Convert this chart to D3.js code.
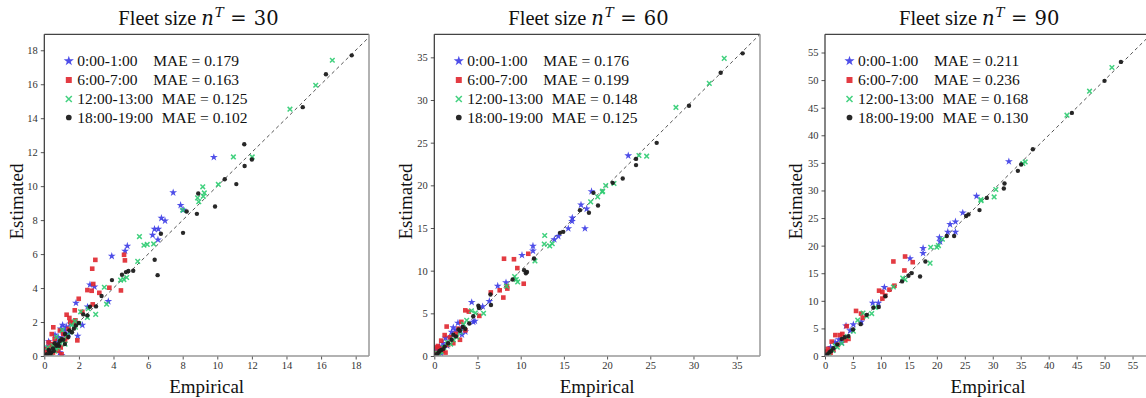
<!DOCTYPE html>
<html><head><meta charset="utf-8">
<script src="https://cdn.jsdelivr.net/npm/d3@7"></script>
<style>body{margin:0;background:#fff}svg{display:block}text{font-family:"Liberation Serif","Times New Roman",serif}</style>
</head><body><svg id="c" width="1146" height="398"></svg>
<script>
// ---------------- data ----------------
const seriesLabels = ["0:00-1:00","6:00-7:00","12:00-13:00","18:00-19:00"];
const fleetSizes = [30, 60, 90];
const mae30 = ["0.179","0.163","0.125","0.102"];
const mae60 = ["0.176","0.199","0.148","0.125"];
const mae90 = ["0.211","0.236","0.168","0.130"];
const ticks30 = [0,2,4,6,8,10,12,14,16,18];
const ticks60 = [0,5,10,15,20,25,30,35];
const ticks90 = [0,5,10,15,20,25,30,35,40,45,50,55];
const axisMax30 = [18.77, 18.94];
const axisMax60 = [37.7, 37.7];
const axisMax90 = [58.3, 58.3];

const f30_blue = [[9.8,11.7],[7.45,9.62],[7.88,8.88],[8.03,8.6],[6.77,8.12],[6.98,7.96],[6.37,7.47],[6.59,7.47],[6.26,7.12],[6.57,6.85],[4.8,6.48],[4.67,6.18],[3.9,5.88],[2.64,4.2],[2.9,4.08],[3.7,3.22],[1.83,3.12],[2.2,1.82],[1.93,1.18],[1.06,1.82],[1.27,1.72],[0.62,1.25],[0.95,1.6],[1.5,1.9],[0.3,0.75],[0.5,0.6],[0.8,1.1],[0.2,0.3],[0.4,0.2],[1.0,0.05],[0.7,0.9],[1.2,1.5],[0.15,0.5],[0.6,0.4],[1.4,1.3],[0.9,0.2],[1.7,2.0],[2.5,2.9],[0.25,0.85],[1.1,1.25]];
const f30_red = [[2.95,5.66],[2.77,5.14],[4.61,5.96],[4.66,5.63],[2.83,4.24],[2.49,3.88],[2.74,3.84],[3.76,4.02],[3.18,3.72],[4.43,3.86],[1.99,3.37],[1.76,2.69],[2.8,3.04],[1.29,2.43],[1.45,2.24],[0.52,1.69],[0.43,1.29],[1.91,0.92],[1.68,1.96],[1.5,2.0],[1.1,1.3],[0.9,1.5],[0.25,0.8],[0.3,0.5],[0.6,1.0],[0.8,0.3],[0.5,0.2],[0.1,0.4],[1.2,0.9],[0.7,0.6],[0.95,0.5],[1.4,1.6],[0.2,0.1],[0.35,0.05],[1.0,0.1],[1.3,1.1],[2.2,2.6],[1.8,2.1],[0.15,0.2],[0.45,0.7]];
const f30_green = [[16.65,17.41],[15.69,15.94],[14.2,14.53],[10.93,11.72],[12.02,11.72],[10.06,10.1],[9.16,9.96],[9.25,9.6],[8.86,9.31],[8.93,9.08],[9.19,9.4],[8.0,8.59],[5.5,7.03],[5.76,6.52],[5.95,6.57],[6.32,6.6],[5.4,5.57],[4.41,4.47],[4.6,4.5],[4.76,4.62],[3.47,4.05],[3.6,3.05],[2.97,2.45],[2.54,2.78],[2.49,2.27],[2.1,2.6],[1.77,2.05],[1.58,1.82],[1.04,1.52],[0.71,1.12],[1.8,1.7],[1.3,1.2],[0.9,0.8],[0.5,0.6],[0.3,0.2],[0.6,0.3],[1.1,0.9],[0.2,0.5],[1.5,1.4],[0.8,0.5],[2.0,1.9],[0.4,0.1],[1.2,0.7],[0.65,0.45]];
const f30_black = [[17.77,17.7],[16.28,16.59],[14.94,14.65],[11.56,12.47],[11.58,11.19],[12.0,11.57],[10.43,10.41],[11.1,10.12],[8.9,9.57],[8.23,8.51],[8.82,8.37],[9.87,8.8],[8.02,7.25],[6.74,7.2],[6.38,5.67],[6.55,4.76],[3.91,4.47],[4.49,4.78],[4.72,4.94],[4.86,5.0],[5.14,5.02],[3.31,3.53],[2.64,2.9],[2.99,2.92],[2.25,2.45],[2.49,2.39],[1.83,1.8],[1.71,1.61],[1.45,1.51],[1.39,1.12],[0.9,0.88],[1.19,0.7],[1.0,1.0],[0.7,0.6],[0.5,0.45],[0.3,0.3],[0.15,0.1],[0.4,0.2],[0.6,0.75],[0.8,0.7],[1.2,1.3],[1.6,1.4],[0.25,0.35],[2.0,1.95],[1.1,0.95],[0.35,0.15],[0.55,0.3],[0.85,0.6]];

const f60_blue = [[22.45,23.48],[18.2,19.28],[16.98,17.71],[17.64,17.24],[15.97,16.19],[15.94,15.8],[17.44,14.94],[15.51,14.94],[14.35,14.04],[13.89,13.65],[11.42,12.9],[11.42,12.32],[10.15,11.81],[7.34,8.21],[8.3,8.61],[6.37,6.42],[4.33,6.3],[2.74,3.87],[2.2,3.33],[3.13,3.29],[3.59,2.86],[4.51,3.99],[1.3,2.1],[4.7,4.1],[5.6,5.8],[1.0,1.5],[0.6,1.1],[0.3,0.6],[1.8,2.2],[2.5,3.0],[3.2,2.5],[0.8,0.3],[0.4,0.2],[1.5,1.2],[2.0,2.8],[0.2,0.9]];
const f60_red = [[8.07,11.4],[9.22,11.34],[10.88,11.98],[9.61,10.3],[10.35,8.47],[8.45,7.9],[7.99,6.85],[6.54,7.45],[7.57,7.7],[8.41,8.18],[5.21,4.7],[3.59,5.35],[1.43,3.45],[1.2,2.45],[3.13,4.0],[2.97,1.9],[4.0,5.2],[2.5,2.6],[1.8,2.2],[2.2,1.5],[0.42,1.17],[0.8,1.8],[1.0,0.6],[0.3,0.4],[0.6,0.9],[1.6,1.3],[2.8,3.2],[0.2,1.0],[1.3,0.4],[3.6,3.0],[0.5,0.1]];
const f60_green = [[33.56,34.88],[31.83,31.95],[27.97,29.13],[23.69,23.5],[24.58,23.42],[20.8,20.22],[19.84,19.98],[19.44,19.24],[18.91,18.65],[18.1,18.06],[19.49,19.32],[12.78,14.12],[12.73,13.12],[13.65,13.16],[13.36,12.9],[11.65,11.14],[9.49,8.96],[9.65,8.68],[9.3,9.3],[8.37,8.18],[4.75,5.05],[3.75,4.19],[4.3,5.3],[5.7,5.0],[3.0,2.8],[2.2,1.9],[1.5,1.6],[0.8,0.5],[1.1,1.0],[2.6,2.2],[0.4,0.3],[1.9,1.4],[3.4,3.7],[0.6,0.1]];
const f60_black = [[35.69,35.47],[33.15,33.19],[29.48,29.32],[25.74,24.98],[23.35,23.1],[23.35,22.37],[21.81,20.81],[20.65,20.29],[18.42,19.12],[18.95,17.64],[16.86,17.09],[17.9,16.78],[14.93,14.55],[14.55,14.43],[11.54,11.42],[10.73,9.85],[10.6,9.7],[10.4,10.05],[9.07,8.96],[6.56,5.98],[6.5,7.2],[5.17,5.63],[5.1,5.9],[4.51,4.66],[4.05,3.8],[3.59,3.2],[2.97,2.96],[2.5,2.3],[2.0,1.9],[1.6,1.5],[1.2,1.1],[0.8,0.7],[0.5,0.4],[0.3,0.2],[2.8,3.1],[3.3,3.4],[1.0,0.8],[0.6,0.6],[2.2,2.5]];

const f90_blue = [[32.88,35.24],[27.1,28.97],[24.64,25.96],[22.37,23.86],[23.33,24.34],[21.96,22.48],[23.33,22.48],[20.47,21.45],[20.58,20.73],[17.54,19.53],[17.54,18.63],[15.21,17.67],[10.62,12.44],[8.53,9.62],[9.55,9.62],[3.76,5.47],[5.07,5.71],[6.5,6.2],[1.8,2.5],[2.5,3.0],[1.0,1.6],[0.6,0.8],[4.5,4.6],[3.0,2.4],[0.3,0.2],[1.5,1.2]];
const f90_red = [[12.23,17.13],[14.32,18.03],[15.69,17.0],[14.2,15.5],[12.41,12.74],[11.52,12.02],[9.67,11.84],[10.26,11.6],[10.74,10.94],[10.26,10.4],[5.55,8.17],[6.44,7.69],[6.74,6.91],[3.88,5.41],[1.85,3.79],[2.68,3.79],[3.64,2.82],[3.1,4.0],[1.2,2.6],[0.5,1.3],[2.3,2.0],[1.0,0.6],[0.2,0.8],[4.2,3.1],[1.5,1.1]];
const f90_green = [[51.31,52.28],[47.31,47.99],[43.27,43.64],[35.8,35.17],[35.38,34.88],[30.55,30.17],[30.25,28.83],[27.87,28.35],[27.92,28.13],[18.79,16.83],[18.9,19.71],[19.99,19.71],[20.29,20.01],[21.0,21.15],[14.32,13.82],[13.9,14.12],[12.23,12.5],[8.35,7.69],[7.46,7.21],[5.85,6.49],[5.07,4.51],[6.8,7.8],[4.0,3.5],[3.0,2.3],[2.2,1.6],[1.4,1.0],[0.8,0.3],[1.8,1.9],[9.0,8.8]];
const f90_black = [[52.92,53.3],[49.99,49.86],[44.15,44.06],[37.17,37.47],[35.08,34.7],[34.49,33.55],[32.1,31.25],[31.98,30.35],[28.94,28.65],[27.63,26.44],[25.66,25.66],[25.24,25.36],[23.09,21.75],[21.78,21.75],[17.96,17.13],[17.0,14.42],[15.51,15.02],[14.92,14.54],[13.78,13.52],[10.8,10.82],[9.61,8.89],[8.65,8.77],[7.46,7.45],[6.38,5.77],[4.18,3.61],[3.0,3.1],[2.2,2.1],[1.5,1.4],[0.8,0.7],[0.4,0.3],[5.0,4.8],[3.5,3.4],[1.1,0.9]];

// ---------------- drawing ----------------
const colors = ["#3b3be6","#e0262e","#2ecc71","#1c1c1c"];
const shapes = ["star","square","x","circle"];

const panels = [
  {n:30, left:44.3, right:369, max:axisMax30, ticks:ticks30, mae:mae30, data:[f30_blue,f30_red,f30_green,f30_black], ylab:22.5},
  {n:60, left:434.3, right:760, max:axisMax60, ticks:ticks60, mae:mae60, data:[f60_blue,f60_red,f60_green,f60_black], ylab:411.5},
  {n:90, left:825, right:1151, max:axisMax90, ticks:ticks90, mae:mae90, data:[f90_blue,f90_red,f90_green,f90_black], ylab:801.5}
];
const plotTop = 34.3, plotBottom = 356;
const svg = d3.select("#c");

function marker(g, shape, color, x, y, scale){
  scale = scale || 1;
  if(shape==="star"){
    g.append("path").attr("d", d3.symbol(d3.symbolStar, 19*scale*scale)())
      .attr("transform",`translate(${x},${y})`).attr("fill",color).attr("fill-opacity",0.9);
  } else if(shape==="square"){
    const s=4.6*scale;
    g.append("rect").attr("x",x-s/2).attr("y",y-s/2).attr("width",s).attr("height",s)
      .attr("fill",color).attr("fill-opacity",0.9);
  } else if(shape==="x"){
    const h=2.3*scale;
    g.append("path").attr("d",`M${x-h},${y-h}L${x+h},${y+h}M${x-h},${y+h}L${x+h},${y-h}`)
      .attr("stroke",color).attr("stroke-width",1.5).attr("stroke-opacity",0.9).attr("fill","none");
  } else {
    g.append("circle").attr("cx",x).attr("cy",y).attr("r",2.2*scale).attr("fill",color).attr("fill-opacity",0.95);
  }
}

panels.forEach((p,pi)=>{
  const x = d3.scaleLinear().domain([0,p.max[0]]).range([p.left,p.right]);
  const y = d3.scaleLinear().domain([0,p.max[1]]).range([plotBottom,plotTop]);
  const g = svg.append("g");
  const clipId = "clip"+pi;
  svg.append("clipPath").attr("id",clipId).append("rect")
    .attr("x",p.left).attr("y",plotTop).attr("width",p.right-p.left).attr("height",plotBottom-plotTop);

  const xa = g.append("g").attr("transform",`translate(0,${plotBottom})`)
    .call(d3.axisBottom(x).tickValues(p.ticks).tickSize(3.5).tickPadding(2.5));
  const ya = g.append("g").attr("transform",`translate(${p.left},0)`)
    .call(d3.axisLeft(y).tickValues(p.ticks).tickSize(3.5).tickPadding(3));
  [xa,ya].forEach(a=>{
    a.select(".domain").remove();
    a.selectAll("line").attr("stroke","#555");
    a.selectAll("text").attr("font-size","10.5px").attr("fill","#333")
      .style("font-family","'Liberation Serif',serif");
  });

  const m = Math.max(p.max[0],p.max[1]);
  g.append("line").attr("clip-path",`url(#${clipId})`)
    .attr("x1",x(0)).attr("y1",y(0)).attr("x2",x(m)).attr("y2",y(m))
    .attr("stroke","#555").attr("stroke-width",1).attr("stroke-dasharray","3.5,3");

  const pg = g.append("g").attr("clip-path",`url(#${clipId})`);
  p.data.forEach((arr,si)=>{
    arr.forEach(d=>marker(pg, shapes[si], colors[si], x(d[0]), y(d[1])));
  });

  g.append("line").attr("x1",p.left).attr("x2",p.left).attr("y1",plotTop).attr("y2",plotBottom).attr("stroke","#333").attr("stroke-width",1.2);
  g.append("line").attr("x1",p.left).attr("x2",p.right).attr("y1",plotTop).attr("y2",plotTop).attr("stroke","#444").attr("stroke-width",1.2);
  g.append("line").attr("x1",p.right).attr("x2",p.right).attr("y1",plotTop).attr("y2",plotBottom).attr("stroke","#999").attr("stroke-width",1.5);
  g.append("line").attr("x1",p.left).attr("x2",p.right).attr("y1",plotBottom).attr("y2",plotBottom).attr("stroke","#999").attr("stroke-width",1.5);

  const lx = p.left + 24.5;
  const rows = [61,80,99,117.5];
  seriesLabels.forEach((lab,si)=>{
    marker(g, shapes[si], colors[si], lx, rows[si], 1.3);
    const t = g.append("text").attr("x",lx+8.5).attr("y",rows[si]+5.3)
      .attr("font-size","15.5px").attr("fill","#111");
    t.append("tspan").text(lab);
    t.append("tspan").attr("x", lx+8.5+(si<2?76:84.5)).text("MAE = "+p.mae[si]);
  });

  const tx = p.left + 74;
  const tt = g.append("text").attr("x",tx).attr("y",25).attr("font-size","20.5px").attr("fill","#111");
  tt.append("tspan").text("Fleet size");
  const math = "'DejaVu Serif',serif";
  tt.append("tspan").attr("x",tx+83).attr("font-style","italic").style("font-family",math).attr("font-size","19.5px").text("n");
  tt.append("tspan").attr("font-style","italic").style("font-family",math).attr("font-size","13.5px").attr("dy",-8).attr("dx",1).text("T");
  tt.append("tspan").attr("x",tx+112).attr("dy",8).style("font-family",math).attr("font-size","19.5px").text("=");
  tt.append("tspan").attr("x",tx+135.5).style("font-family",math).attr("font-size","19.5px").text(p.n);

  g.append("text").attr("x",(p.left+p.right)/2).attr("y",392.5)
    .attr("text-anchor","middle").attr("font-size","19px").attr("fill","#111").text("Empirical");
  g.append("text").attr("transform",`translate(${p.ylab},201.5) rotate(-90)`)
    .attr("text-anchor","middle").attr("font-size","19px").attr("fill","#111").text("Estimated");
});
</script></body></html>
